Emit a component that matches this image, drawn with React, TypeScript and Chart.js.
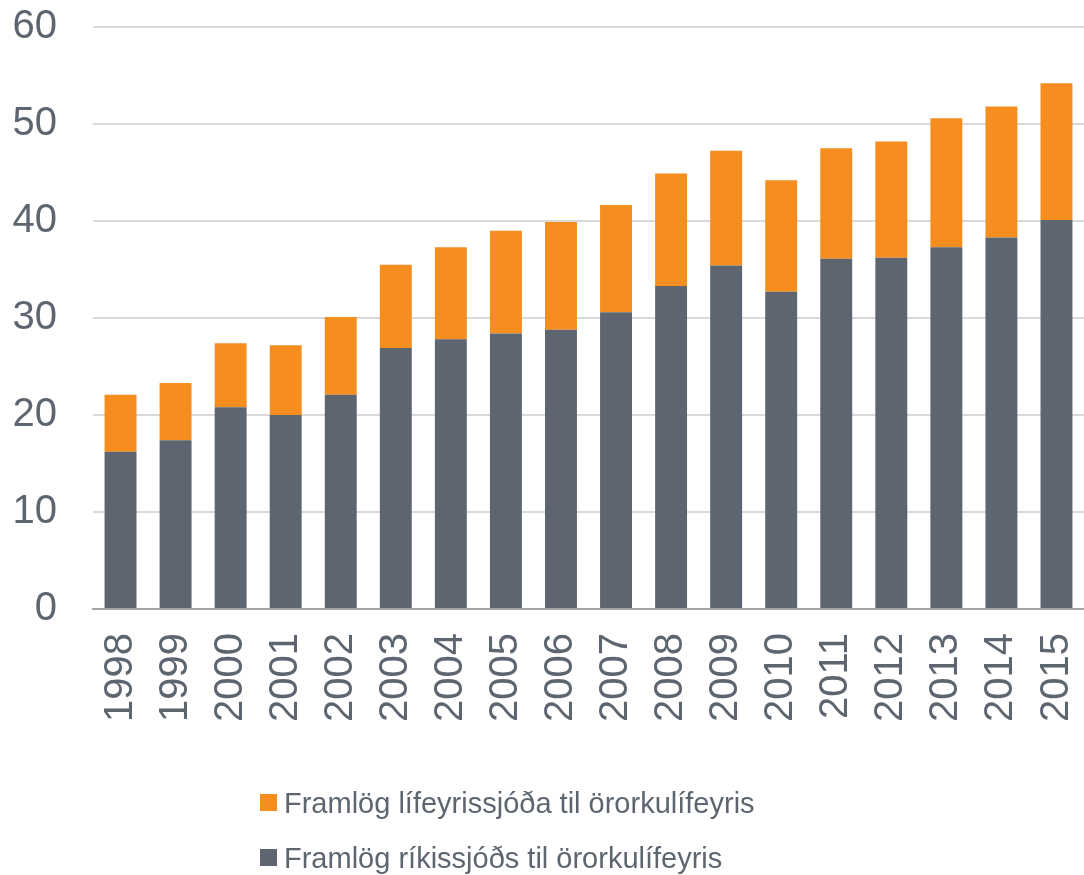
import React, { useEffect, useRef } from 'react';
import { Chart, registerables } from 'chart.js';

Chart.register(...registerables);

const years = ['1998', '1999', '2000', '2001', '2002', '2003', '2004', '2005', '2006', '2007', '2008', '2009', '2010', '2011', '2012', '2013', '2014', '2015'];
const rikissjodur = [16.2, 17.4, 20.8, 20.0, 22.1, 26.9, 27.8, 28.4, 28.8, 30.6, 33.3, 35.4, 32.7, 36.1, 36.2, 37.3, 38.3, 40.1];
const lifeyrissjodir = [5.9, 5.9, 6.6, 7.2, 8.0, 8.6, 9.5, 10.6, 11.1, 11.05, 11.6, 11.85, 11.5, 11.4, 12.0, 13.3, 13.5, 14.1];
const yMin = 0;
const yMax = 60;
const yStep = 10;

const labelRiki = 'Framlög ríkissjóðs til örorkulífeyris';
const labelLif = 'Framlög lífeyrissjóða til örorkulífeyris';

const GREY = '#5D6670';
const ORANGE = '#F58D1F';
const TEXT = '#5D6670';
const FONT = "'Liberation Sans', Arial, sans-serif";

const legendPlugin = {
  id: 'stackedLegend',
  afterDraw(chart: any) {
    const ctx = chart.ctx;
    const opts = chart.options.plugins.stackedLegend;
    const items = [...chart.data.datasets].reverse();
    ctx.save();
    ctx.font = `${opts.fontSize}px ${FONT}`;
    ctx.textBaseline = 'alphabetic';
    ctx.textAlign = 'left';
    items.forEach((ds: any, i: number) => {
      const baseY = opts.top + i * opts.rowGap;
      ctx.fillStyle = ds.backgroundColor;
      ctx.fillRect(opts.left, baseY - opts.box - 2, opts.box, opts.box);
      ctx.fillStyle = TEXT;
      ctx.fillText(ds.label, opts.left + opts.box + 7, baseY);
    });
    ctx.restore();
  },
};

export default function App() {
  const canvasRef = useRef<HTMLCanvasElement | null>(null);

  useEffect(() => {
    document.body.style.margin = '0';
    const canvas = canvasRef.current;
    if (!canvas) return;
    const chart = new Chart(canvas, {
      type: 'bar',
      data: {
        labels: years,
        datasets: [
          {
            label: labelRiki,
            data: rikissjodur,
            backgroundColor: GREY,
            barPercentage: 0.58,
            categoryPercentage: 1,
          },
          {
            label: labelLif,
            data: lifeyrissjodir,
            backgroundColor: ORANGE,
            barPercentage: 0.58,
            categoryPercentage: 1,
          },
        ],
      },
      options: {
        animation: false,
        responsive: true,
        maintainAspectRatio: false,
        layout: { padding: { left: 13, right: 0, top: 27, bottom: 155 } },
        plugins: {
          legend: { display: false },
          tooltip: { enabled: false },
          stackedLegend: { left: 260, top: 813, rowGap: 55, box: 17, fontSize: 29 },
        } as any,
        scales: {
          x: {
            stacked: true,
            grid: { display: false, drawTicks: false },
            border: { display: true, color: '#A6A6A6', width: 2 },
            ticks: {
              color: TEXT,
              font: { family: FONT, size: 40 },
              minRotation: 90,
              maxRotation: 90,
              padding: 24,
              autoSkip: false,
            },
            afterFit(scale: any) {
              scale.height = 111;
              scale.paddingLeft = 0;
              scale.paddingRight = 0;
            },
          },
          y: {
            stacked: true,
            min: yMin,
            max: yMax,
            grid: { color: '#D9D9D9', lineWidth: 2, drawTicks: false },
            border: { display: false },
            ticks: {
              stepSize: yStep,
              color: TEXT,
              font: { family: FONT, size: 40 },
              padding: 36,
            },
            afterFit(scale: any) {
              scale.width = 80;
              scale.paddingTop = 0;
              scale.paddingBottom = 0;
            },
          },
        },
      },
      plugins: [legendPlugin],
    });
    return () => chart.destroy();
  }, []);

  return (
    <div style={{ position: 'absolute', left: 0, top: 0, width: 1084, height: 875 }}>
      <canvas ref={canvasRef} />
    </div>
  );
}
